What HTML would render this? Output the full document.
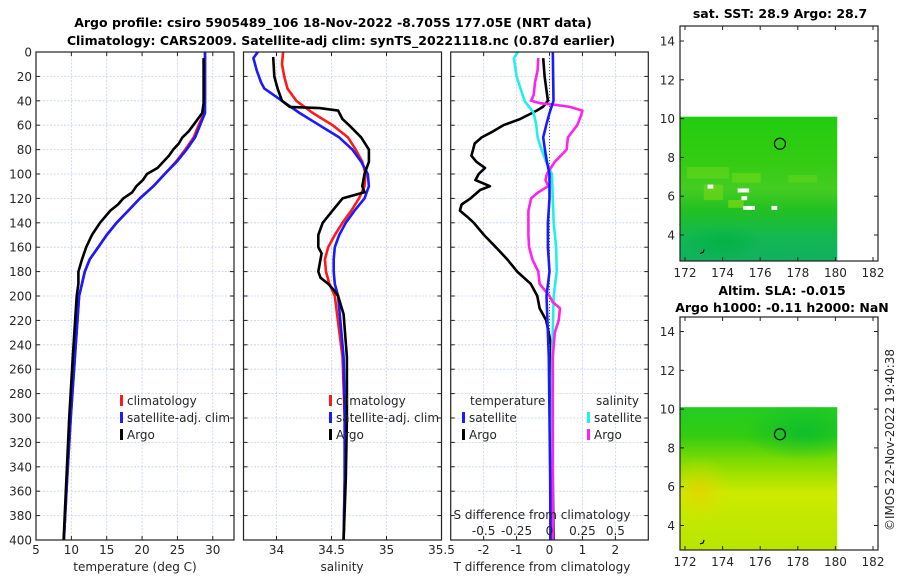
<!DOCTYPE html>
<html><head><meta charset="utf-8">
<style>
html,body{margin:0;padding:0;background:#fff;}
svg{display:block;font-family:"DejaVu Sans","Liberation Sans",sans-serif;}
.t{font-size:12px;fill:#262626;}
.b{font-weight:bold;font-size:12.5px;fill:#000;}
</style></head>
<body>
<svg id="c" width="900" height="580" viewBox="0 0 900 580">
<text class="b" x="333" y="27" text-anchor="middle">Argo profile: csiro 5905489_106 18-Nov-2022 -8.705S 177.05E (NRT data)</text>
<text class="b" x="341" y="45" text-anchor="middle">Climatology: CARS2009. Satellite-adj clim: synTS_20221118.nc (0.87d earlier)</text>
<text class="b" x="780" y="18" text-anchor="middle">sat. SST: 28.9 Argo: 28.7</text>
<text class="b" x="782" y="295" text-anchor="middle">Altim. SLA: -0.015</text>
<text class="b" x="782" y="312" text-anchor="middle">Argo h1000: -0.11 h2000: NaN</text>
<text class="t" transform="translate(894,440) rotate(-90)" text-anchor="middle">©IMOS 22-Nov-2022 19:40:38</text>
<defs>
<linearGradient id="sstg" x1="0" y1="0" x2="0" y2="1">
<stop offset="0" stop-color="#22cc11"/><stop offset="0.3" stop-color="#33cc11"/><stop offset="0.5" stop-color="#44cc22"/><stop offset="0.65" stop-color="#22c022"/><stop offset="0.85" stop-color="#11b855"/><stop offset="1" stop-color="#11b060"/></linearGradient>
<linearGradient id="slag" x1="0" y1="0" x2="0" y2="1">
<stop offset="0" stop-color="#22cc22"/><stop offset="0.2" stop-color="#33cc11"/><stop offset="0.4" stop-color="#88dd00"/><stop offset="0.6" stop-color="#ccea00"/><stop offset="1" stop-color="#b8e600"/></linearGradient>
<radialGradient id="orng" cx="0.5" cy="0.5" r="0.5"><stop offset="0" stop-color="#f0c800" stop-opacity="0.6"/><stop offset="1" stop-color="#e0e000" stop-opacity="0"/></radialGradient>
<radialGradient id="dkg" cx="0.5" cy="0.5" r="0.5"><stop offset="0" stop-color="#00b040" stop-opacity="0.8"/><stop offset="1" stop-color="#00b040" stop-opacity="0"/></radialGradient>
<radialGradient id="dkg2" cx="0.5" cy="0.5" r="0.5"><stop offset="0" stop-color="#00b838" stop-opacity="0.7"/><stop offset="1" stop-color="#00b838" stop-opacity="0"/></radialGradient>
</defs>
<g id="g"></g>
</svg>
<script>
// ---------- data ----------
const depthTicks=[0,20,40,60,80,100,120,140,160,180,200,220,240,260,280,300,320,340,360,380,400];
const tempTicks=[5,10,15,20,25,30];
const salTicks=[34,34.5,35,35.5];
const dTTicks=[-2,-1,0,1,2];
const dTLabels=["-2","-1","0","1","2"];
const dSTicks=[-0.5,-0.25,0,0.25,0.5];
const dSLabels=["-0.5","-0.25","0","0.25","0.5"];
const lonTicks=[172,174,176,178,180,182];
const latTicks=[4,6,8,10,12,14];

const argoTDepth=[5,42,50,60,65,70,75,80,85,90,95,100,105,110,115,120,125,130,140,150,160,170,180,190,200,250,300,350,400];
const argoT=[28.7,28.7,28.5,27.25,26.6,25.7,25.2,24.4,23.8,23.0,22.2,20.7,20.1,19.2,18.6,17.35,16.6,15.5,14.05,12.9,12.1,11.5,11.0,11.0,10.75,10.2,9.7,9.3,8.9];
const climDepth=[0,40,50,60,70,80,90,100,110,120,130,140,150,160,170,180,190,200,250,300,350,400];
const climT=[28.9,28.9,28.8,28.0,27.3,26.1,24.8,23.2,21.6,19.7,18.05,16.4,15.0,13.8,12.6,11.9,11.5,11.1,10.5,9.9,9.4,8.95];
const satT=[28.9,28.9,28.9,28.2,27.5,26.3,24.9,23.2,21.6,19.7,18.05,16.4,15.0,13.8,12.6,11.9,11.5,11.1,10.5,9.9,9.4,8.95];

const argoSDepth=[4,20,30,40,45,46,48,55,60,70,80,90,100,110,115,120,130,140,150,160,165,180,185,190,195,200,215,250,300,350,400];
const argoS=[33.97,33.98,34.01,34.05,34.12,34.39,34.56,34.60,34.66,34.77,34.84,34.84,34.80,34.78,34.80,34.60,34.51,34.42,34.38,34.38,34.41,34.38,34.40,34.47,34.52,34.56,34.61,34.64,34.64,34.63,34.61];
const climSDepth=[0,10,20,30,40,50,60,70,80,90,100,110,120,130,140,150,160,170,180,190,200,250,300,350,400];
const climS=[34.06,34.05,34.07,34.10,34.18,34.33,34.51,34.65,34.72,34.78,34.81,34.80,34.75,34.68,34.60,34.53,34.47,34.44,34.45,34.48,34.53,34.60,34.62,34.62,34.61];
const satSDepth=[0,5,15,25,30,35,40,50,60,70,80,90,100,110,120,130,140,150,160,170,180,190,200,250,300,350,400];
const satS=[33.83,33.79,33.82,33.86,33.89,33.97,34.05,34.21,34.39,34.57,34.69,34.77,34.83,34.84,34.80,34.71,34.63,34.57,34.53,34.52,34.52,34.53,34.56,34.61,34.62,34.62,34.61];

const dTsatDepth=[0,40,50,60,70,80,90,100,120,140,160,180,200,250,300,350,400];
const dTsat=[0.1,0.12,0.0,-0.1,-0.19,-0.14,-0.08,0.0,0.0,-0.05,-0.05,0.0,-0.09,-0.02,0.0,0.02,0.03];
const dTargoDepth=[5,20,40,45,48,55,60,65,70,75,80,85,90,95,100,105,110,113,120,125,130,135,140,150,160,170,180,190,200,210,220,240,300,350,400];
const dTargo=[-0.19,-0.15,-0.05,-0.2,-0.39,-0.9,-1.4,-1.71,-2.06,-2.27,-2.32,-2.37,-2.22,-1.96,-2.15,-2.25,-1.81,-2.1,-2.4,-2.67,-2.72,-2.5,-2.3,-1.99,-1.63,-1.28,-0.98,-0.57,-0.37,-0.3,-0.1,0.05,0.08,0.1,0.12];
const dSsatDepth=[0,5,20,40,50,60,70,80,90,100,120,140,160,180,200,250,300,350,400];
const dSsat=[-0.24,-0.27,-0.25,-0.19,-0.12,-0.1,-0.09,-0.06,-0.025,0.018,0.025,0.032,0.05,0.055,0.032,0.02,0.02,0.02,0.02];
const dSargoDepth=[5,15,25,35,40,42,43,45,48,52,60,70,80,90,100,105,110,115,120,130,140,150,160,170,180,190,200,205,210,220,230,250,300,350,400];
const dSargo=[-0.085,-0.09,-0.11,-0.12,-0.14,-0.07,0.025,0.155,0.25,0.24,0.21,0.14,0.13,0.04,-0.02,-0.03,-0.01,-0.085,-0.14,-0.16,-0.16,-0.16,-0.155,-0.13,-0.085,-0.075,0.0,0.025,0.08,0.07,0.04,0.025,0.025,0.025,0.025];

const floatLon=177.05, floatLat=8.705;

// ---------- helpers ----------
const NS="http://www.w3.org/2000/svg";
const G=document.getElementById('g');
function mk(tag,attrs,parent){const e=document.createElementNS(NS,tag);for(const k in attrs)e.setAttribute(k,attrs[k]);(parent||G).appendChild(e);return e;}
const yTop=52,yBot=540;
function yD(d){return yTop+(d/400)*(yBot-yTop);}
function lin(d0,d1,p0,p1){return v=>p0+(v-d0)/(d1-d0)*(p1-p0);}

function panel(name,x0,x1,xs,ticks,labels,showDepth){
  const grp=mk('g',{});
  
  
  depthTicks.forEach(d=>{const l=mk('line',{x1:x0,x2:x1,y1:yD(d),y2:yD(d),stroke:'#c8d0ee','stroke-width':0.8,'stroke-dasharray':'2,1.5'},grp);
    
    
    mk('line',{x1:x0,x2:x0+4,y1:yD(d),y2:yD(d),stroke:'#222'},grp);mk('line',{x1:x1-4,x2:x1,y1:yD(d),y2:yD(d),stroke:'#222'},grp);
    if(showDepth){const t=mk('text',{x:x0-4,y:yD(d)+4.5,'text-anchor':'end',class:'t'},grp);t.textContent=d;
      
      }
  });
  ticks.forEach((v,i)=>{const x=xs(v);
    mk('line',{x1:x,x2:x,y1:yTop,y2:yBot,stroke:'#c8d0ee','stroke-width':0.8,'stroke-dasharray':'2,1.5'},grp);
    mk('line',{x1:x,x2:x,y1:yBot,y2:yBot-4,stroke:'#222'},grp);mk('line',{x1:x,x2:x,y1:yTop,y2:yTop+4,stroke:'#222'},grp);
    if(labels){const t=mk('text',{x:x,y:554,'text-anchor':'middle',class:'t'},grp);t.textContent=labels[i];
      
      }
  });
  return grp;
}
function frame(x0,x1,grp){mk('rect',{x:x0,y:yTop,width:x1-x0,height:yBot-yTop,fill:'none',stroke:'#222','stroke-width':1.2},grp);}
function line(name,xs,vals,deps,color,grp,w){
  const pts=vals.map((v,i)=>xs(v).toFixed(1)+','+yD(deps[i]).toFixed(1)).join(' ');
  const p=mk('polyline',{points:pts,fill:'none',stroke:color,'stroke-width':w||2.6,'stroke-linejoin':'round'},grp);
  
  
}
function legend(grp,x,y,color,label){
  mk('rect',{x:x,y:y-10,width:3,height:11,fill:color},grp);
  const t=mk('text',{x:x+7,y:y,class:'t','font-size':'12.5'},grp);t.textContent=label;
  
  
}
function label(txt,x,y,name){const t=mk('text',{x:x,y:y,'text-anchor':'middle',class:'t','font-size':'12.5'});t.textContent=txt;
  
  }

// ---------- panel 1: temperature ----------
const xT=lin(5,33,36,234);
const p1=panel('temperature-panel',36,234,xT,tempTicks,tempTicks.map(String),true);
line('climatology-temperature-line',xT,climT,climDepth,'#ff1a1a',p1);
line('satellite-temperature-line',xT,satT,climDepth,'#1a1aff',p1);
line('argo-temperature-line',xT,argoT,argoTDepth,'#000',p1);
frame(36,234,p1);
legend(p1,120,405,'#ff1a1a','climatology');legend(p1,120,422,'#1a1aff','satellite-adj. clim');legend(p1,120,439,'#000','Argo');
label('temperature (deg C)',135,571,'temperature-axis-title');

// ---------- panel 2: salinity ----------
const xS=lin(33.7,35.5,243.5,441.5);
const p2=panel('salinity-panel',243.5,441.5,xS,salTicks,salTicks.map(String),false);
line('climatology-salinity-line',xS,climS,climSDepth,'#ff1a1a',p2);
line('satellite-salinity-line',xS,satS,satSDepth,'#1a1aff',p2);
line('argo-salinity-line',xS,argoS,argoSDepth,'#000',p2);
frame(243.5,441.5,p2);
legend(p2,329,405,'#ff1a1a','climatology');legend(p2,329,422,'#1a1aff','satellite-adj. clim');legend(p2,329,439,'#000','Argo');
label('salinity',342,571,'salinity-axis-title');

// ---------- panel 3: differences ----------
const xDT=lin(-3,3,450.7,648.3);
const xDS=v=>xDT(v*4);
const p3=panel('difference-panel',450.7,648.3,xDT,dTTicks,dTLabels,false);
const zl=mk('line',{x1:xDT(0),x2:xDT(0),y1:yTop,y2:yBot,stroke:'#555','stroke-dasharray':'1,2'},p3);


line('argo-temperature-diff-line',xDT,dTargo,dTargoDepth,'#000',p3);
line('satellite-salinity-diff-line',xDS,dSsat,dSsatDepth,'#22eeee',p3);
line('argo-salinity-diff-line',xDS,dSargo,dSargoDepth,'#ff22ee',p3);
line('satellite-temperature-diff-line',xDT,dTsat,dTsatDepth,'#1a1aff',p3);
frame(450.7,648.3,p3);
{const t=mk('text',{x:470,y:405,class:'t','font-size':'12.5'},p3);t.textContent='temperature';}
{const t=mk('text',{x:596,y:405,class:'t','font-size':'12.5'},p3);t.textContent='salinity';}
legend(p3,462,422,'#1a1aff','satellite');legend(p3,462,439,'#000','Argo');
legend(p3,587,422,'#22eeee','satellite');legend(p3,587,439,'#ff22ee','Argo');
label('S difference from climatology',542,519,'s-diff-axis-title');
dSTicks.forEach((v,i)=>{const t=mk('text',{x:xDS(v),y:535,'text-anchor':'middle',class:'t'},p3);t.textContent=dSLabels[i];
  
  });
label('T difference from climatology',542,571,'t-diff-axis-title');

// ---------- maps ----------
let clipN=0;
function map(name,top,bot,lat4y,fill,extra){
  const grp=mk('g',{});
  
  
  const xL=lin(172,182,685,873);
  const yL=v=>lat4y-(v-4)*19.4;
  const x0=680,x1=878;
  const rx=x0,ry=yL(10.1),rw=xL(180.1)-x0,rh=bot-yL(10.1);
  const cid='clip'+(clipN++);
  const cp=mk('clipPath',{id:cid},grp);
  mk('rect',{x:rx,y:ry,width:rw,height:rh},cp);
  const r=mk('rect',{x:rx,y:ry,width:rw,height:rh,fill:fill},grp);
  
  
  const inner=mk('g',{'clip-path':'url(#'+cid+')'},grp);
  extra(inner,xL,yL,bot);
  mk('rect',{x:x0,y:top,width:x1-x0,height:bot-top,fill:'none',stroke:'#222','stroke-width':1.2},grp);
  lonTicks.forEach(v=>{mk('line',{x1:xL(v),x2:xL(v),y1:bot,y2:bot-4,stroke:'#222'},grp);mk('line',{x1:xL(v),x2:xL(v),y1:top,y2:top+4,stroke:'#222'},grp);
    const t=mk('text',{x:xL(v),y:bot+16,'text-anchor':'middle',class:'t'},grp);t.textContent=v;
    
    });
  latTicks.forEach(v=>{const y=yL(v);if(y<top)return;mk('line',{x1:x0,x2:x0+4,y1:y,y2:y,stroke:'#222'},grp);mk('line',{x1:x1-4,x2:x1,y1:y,y2:y,stroke:'#222'},grp);
    const t=mk('text',{x:x0-5,y:y+4.5,'text-anchor':'end',class:'t'},grp);t.textContent=v;
    
    });
  const c=mk('circle',{cx:xL(floatLon),cy:yL(floatLat),r:5.5,fill:'none',stroke:'#000','stroke-width':1.2},grp);
  
  
  mk('path',{d:`M${xL(172.8)} ${yL(3.05)} l3 -1 l1 -3`,stroke:'#000',fill:'none','stroke-width':1.2},grp);
}
map('sst-map',26,261,235,'url(#sstg)',(g,xL,yL,bot)=>{
  [[172.1,7.5,2.2,0.6,'#66d61a'],[174.5,7.2,1.5,0.5,'#70d818'],[177.5,7.1,1.5,0.4,'#60d41e'],[174.3,5.8,0.8,0.4,'#88dd11'],[173,6.6,1,0.8,'#77d818']].forEach(a=>
    mk('rect',{x:xL(a[0]),y:yL(a[1]),width:a[2]*19.2,height:a[3]*19.4,fill:a[4],opacity:0.6},g));
  mk('ellipse',{cx:xL(174),cy:yL(3.6),rx:40,ry:18,fill:'url(#dkg)'},g);
  [[174.8,6.4,0.6],[175.1,5.5,0.6],[176.6,5.5,0.3],[175,6.0,0.3],[173.2,6.6,0.3]].forEach(a=>
    mk('rect',{x:xL(a[0]),y:yL(a[1]),width:a[2]*19.2,height:4,fill:'#fff'},g));
});
map('sla-map',317,550,525.5,'url(#slag)',(g,xL,yL,bot)=>{
  mk('ellipse',{cx:xL(172.8),cy:yL(5.8),rx:32,ry:34,fill:'url(#orng)'},g);
  mk('ellipse',{cx:xL(178.3),cy:yL(8.8),rx:60,ry:28,fill:'url(#dkg2)'},g);
});
</script>
</body></html>
